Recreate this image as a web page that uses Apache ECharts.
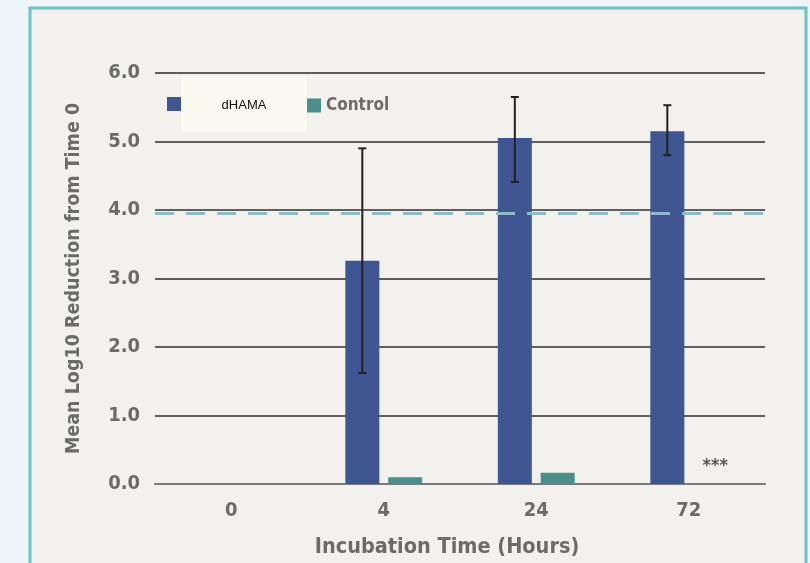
<!DOCTYPE html>
<html><head><meta charset="utf-8">
<script src="https://cdn.jsdelivr.net/npm/echarts@6/dist/echarts.min.js"></script>
<style>html,body{margin:0;padding:0;background:#edf5f8;}#c{width:810px;height:563px;}</style>
</head><body><div id="c"></div>
<script>
var categories = ['0', '4', '24', '72'];
var dhamaValues = [0, 3.26, 5.05, 5.15];
var dhamaLow = [null, 1.62, 4.41, 4.80];
var dhamaHigh = [null, 4.90, 5.65, 5.53];
var controlValues = [0, 0.10, 0.165, 0];
var thresholdValue = 3.95;
var yTicks = [0, 1, 2, 3, 4, 5, 6];

var FONT = '"DejaVu Sans Condensed", "Liberation Sans Narrow", sans-serif';
var GRAY = '#6b6b6b';
var BAR_W = 34, GAP = 0.26;

var chart = echarts.init(document.getElementById('c'));
var errData = categories.map(function (c, i) { return [i, dhamaLow[i], dhamaHigh[i]]; }).filter(function (d) { return d[1] != null; });

chart.setOption({
  backgroundColor: '#edf5f8',
  animation: false,
  graphic: [
    { type: 'rect', z: -10, shape: { x: 30, y: 8, width: 776, height: 620 }, style: { fill: '#f2f1ee', stroke: '#6cc0c6', lineWidth: 3 } },
    { type: 'rect', z: 100, shape: { x: 181, y: 77, width: 126, height: 55 }, style: { fill: '#faf9f0' } },
    { type: 'text', z: 101, x: 244, y: 105, style: { text: 'dHAMA', fill: '#111', font: '13px "Liberation Sans", Arial, sans-serif', textAlign: 'center', textVerticalAlign: 'middle' } }
  ],
  grid: { left: 155, right: 45, top: 73, bottom: 79 },
  legend: [
    { left: 162, top: 92, itemWidth: 14, itemHeight: 14, icon: 'rect', data: ['dHAMA'],
      textStyle: { color: 'transparent', fontSize: 13 } },
    { left: 302, top: 92, itemWidth: 14, itemHeight: 14, icon: 'rect', data: ['Control'],
      textStyle: { color: GRAY, fontWeight: 'bold', fontSize: 17, fontFamily: FONT } }
  ],
  xAxis: {
    type: 'category', data: categories,
    name: 'Incubation Time (Hours)', nameLocation: 'middle', nameGap: 52,
    nameTextStyle: { color: GRAY, fontWeight: 'bold', fontSize: 21.5, fontFamily: FONT, padding: [0, 26, 0, 0] },
    axisLine: { lineStyle: { color: '#7a7a7a', width: 2 } },
    axisTick: { show: false },
    axisLabel: { color: GRAY, fontWeight: 'bold', fontSize: 20, fontFamily: FONT, margin: 17 }
  },
  yAxis: {
    type: 'value', min: 0, max: 6, interval: 1,
    name: 'Mean Log10 Reduction from Time 0', nameLocation: 'middle', nameGap: 71,
    nameTextStyle: { color: GRAY, fontWeight: 'bold', fontSize: 19.5, fontFamily: FONT },
    axisLine: { show: false }, axisTick: { show: false },
    axisLabel: { color: GRAY, fontWeight: 'bold', fontSize: 20, fontFamily: FONT, margin: 15,
      formatter: function (v) { return yTicks.indexOf(v) >= 0 ? v.toFixed(1) : ''; } },
    splitLine: { lineStyle: { color: '#5e5e5e', width: 2 } }
  },
  series: [
    {
      name: 'dHAMA', type: 'bar', data: dhamaValues, barWidth: BAR_W, barGap: (GAP * 100) + '%',
      itemStyle: { color: '#3f5692' },
      markLine: {
        silent: true, symbol: 'none', label: { show: false },
        lineStyle: { color: '#8cbcc6', width: 3, type: [19, 12] },
        data: [{ yAxis: thresholdValue }]
      }
    },
    {
      name: 'Control', type: 'bar', barWidth: BAR_W,
      data: controlValues.map(function (v, i) {
        return i === 3 ? { value: v, label: { show: true, position: 'top', distance: 9, offset: [5, 0], formatter: '***', color: '#555', fontSize: 18, fontWeight: 'bold', fontFamily: FONT } } : v;
      }),
      itemStyle: { color: '#4a8f8c' }
    },
    {
      type: 'custom', name: 'err', data: errData, z: 10,
      renderItem: function (params, api) {
        var off = -(BAR_W * (1 + GAP)) / 2;
        var lo = api.coord([api.value(0), api.value(1)]);
        var hi = api.coord([api.value(0), api.value(2)]);
        var x = lo[0] + off;
        var cap = 4;
        var st = { stroke: '#222', lineWidth: 2 };
        return { type: 'group', children: [
          { type: 'line', shape: { x1: x, y1: lo[1], x2: x, y2: hi[1] }, style: st },
          { type: 'line', shape: { x1: x - cap, y1: hi[1], x2: x + cap, y2: hi[1] }, style: st },
          { type: 'line', shape: { x1: x - cap, y1: lo[1], x2: x + cap, y2: lo[1] }, style: st }
        ] };
      }
    }
  ]
});
</script></body></html>
